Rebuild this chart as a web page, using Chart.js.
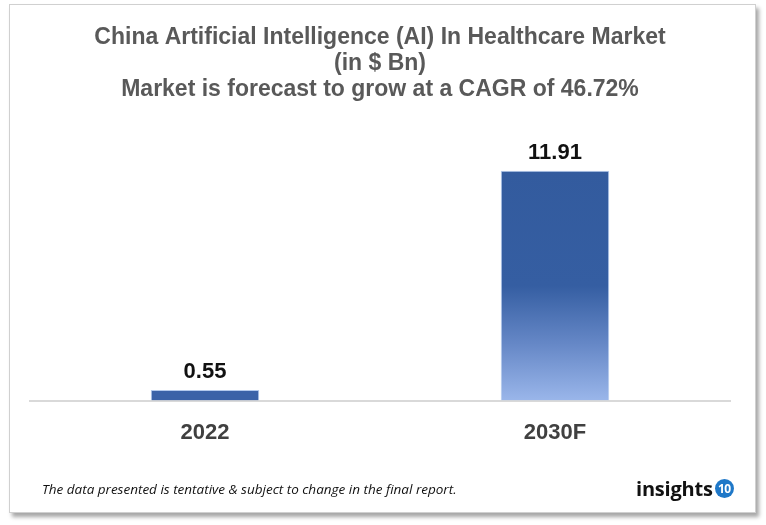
<!DOCTYPE html>
<html>
<head>
<meta charset="utf-8">
<script src="https://cdn.jsdelivr.net/npm/chart.js@4.4.1/dist/chart.umd.min.js"></script>
<style>
  html, body { margin: 0; padding: 0; background: #fff; }
  body { width: 766px; height: 525px; position: relative; overflow: hidden; font-family: 'Liberation Sans', Arial, sans-serif; }
  .frame {
    position: absolute; left: 9px; top: 4px; width: 745px; height: 507px;
    border: 1px solid #d0d0d0; background: #fff;
    box-shadow: 3px 4px 4px rgba(0, 0, 0, 0.35);
  }
  #chart { position: absolute; left: 0; top: 0; }
  .note {
    position: absolute; left: 42px; top: 480px;
    font: italic 13.5px 'Open Sans', 'Liberation Sans', sans-serif; color: #111;
  }
  .logo {
    position: absolute; left: 636px; top: 475px;
    font: bold 20px 'Open Sans', 'Liberation Sans', sans-serif; color: #111;
    display: flex; align-items: center; letter-spacing: -0.2px;
  }
  .logo span.num {
    display: inline-block; width: 19px; height: 19px; border-radius: 50%;
    background: #1f78c8; color: #fff; font-size: 12px; line-height: 19px;
    text-align: center; margin-left: 2px; letter-spacing: -0.5px;
  }
</style>
</head>
<body>
<div class="frame"></div>
<canvas id="chart" width="766" height="525"></canvas>
<div class="note">The data presented is tentative &amp; subject to change in the final report.</div>
<div class="logo">insights<span class="num">10</span></div>
<script>
const titleLines = [
  'China Artificial Intelligence (AI) In Healthcare Market',
  '(in $ Bn)',
  'Market is forecast to grow at a CAGR of 46.72%',
];
const years = ['2022', '2030F'];
const marketSize = [0.55, 11.91];

function barGradient(context) {
  const chart = context.chart;
  const { ctx, chartArea, scales } = chart;
  if (!chartArea || context.parsed == null) return '#345c9f';
  const top = scales.y.getPixelForValue(context.parsed.y);
  const bottom = scales.y.getPixelForValue(0);
  if (bottom - top < 30) return '#3a62a8';
  const gradient = ctx.createLinearGradient(0, top, 0, bottom);
  gradient.addColorStop(0, '#335b9e');
  gradient.addColorStop(0.5, '#355ea2');
  gradient.addColorStop(0.75, '#6587c6');
  gradient.addColorStop(1, '#9ab6ea');
  return gradient;
}

const valueLabels = {
  id: 'valueLabels',
  afterDatasetsDraw(chart) {
    const { ctx } = chart;
    const meta = chart.getDatasetMeta(0);
    ctx.save();
    ctx.font = 'bold 22px "Liberation Sans", Arial, sans-serif';
    ctx.fillStyle = '#111';
    ctx.textAlign = 'center';
    ctx.textBaseline = 'alphabetic';
    meta.data.forEach((bar, i) => {
      ctx.fillText(marketSize[i].toFixed(2), bar.x, bar.y - 12);
    });
    ctx.restore();
  },
};

new Chart(document.getElementById('chart'), {
  type: 'bar',
  data: {
    labels: years,
    datasets: [{
      data: marketSize,
      backgroundColor: barGradient,
      borderColor: 'rgba(170, 195, 235, 0.9)',
      borderWidth: 1,
      barPercentage: 0.31,
      categoryPercentage: 1,
    }],
  },
  options: {
    responsive: false,
    animation: false,
    layout: { padding: { left: 30, right: 36, top: 0, bottom: 60 } },
    plugins: {
      legend: { display: false },
      tooltip: { enabled: false },
      title: {
        display: true,
        text: titleLines,
        color: '#595959',
        font: { family: '"Liberation Sans Narrow", "Liberation Sans", Arial, sans-serif', size: 23, weight: 'bold', lineHeight: 1.15 },
        padding: { top: 24, bottom: 30 },
      },
    },
    scales: {
      x: {
        grid: { display: false, drawTicks: false },
        border: { display: true, color: '#d9d9d9', width: 2 },
        ticks: {
          color: '#404040',
          padding: 19,
          font: { family: '"Liberation Sans", Arial, sans-serif', size: 22, weight: 'bold' },
        },
      },
      y: {
        display: false,
        min: 0,
        max: 13.85,
      },
    },
  },
  plugins: [valueLabels],
});
</script>
</body>
</html>
